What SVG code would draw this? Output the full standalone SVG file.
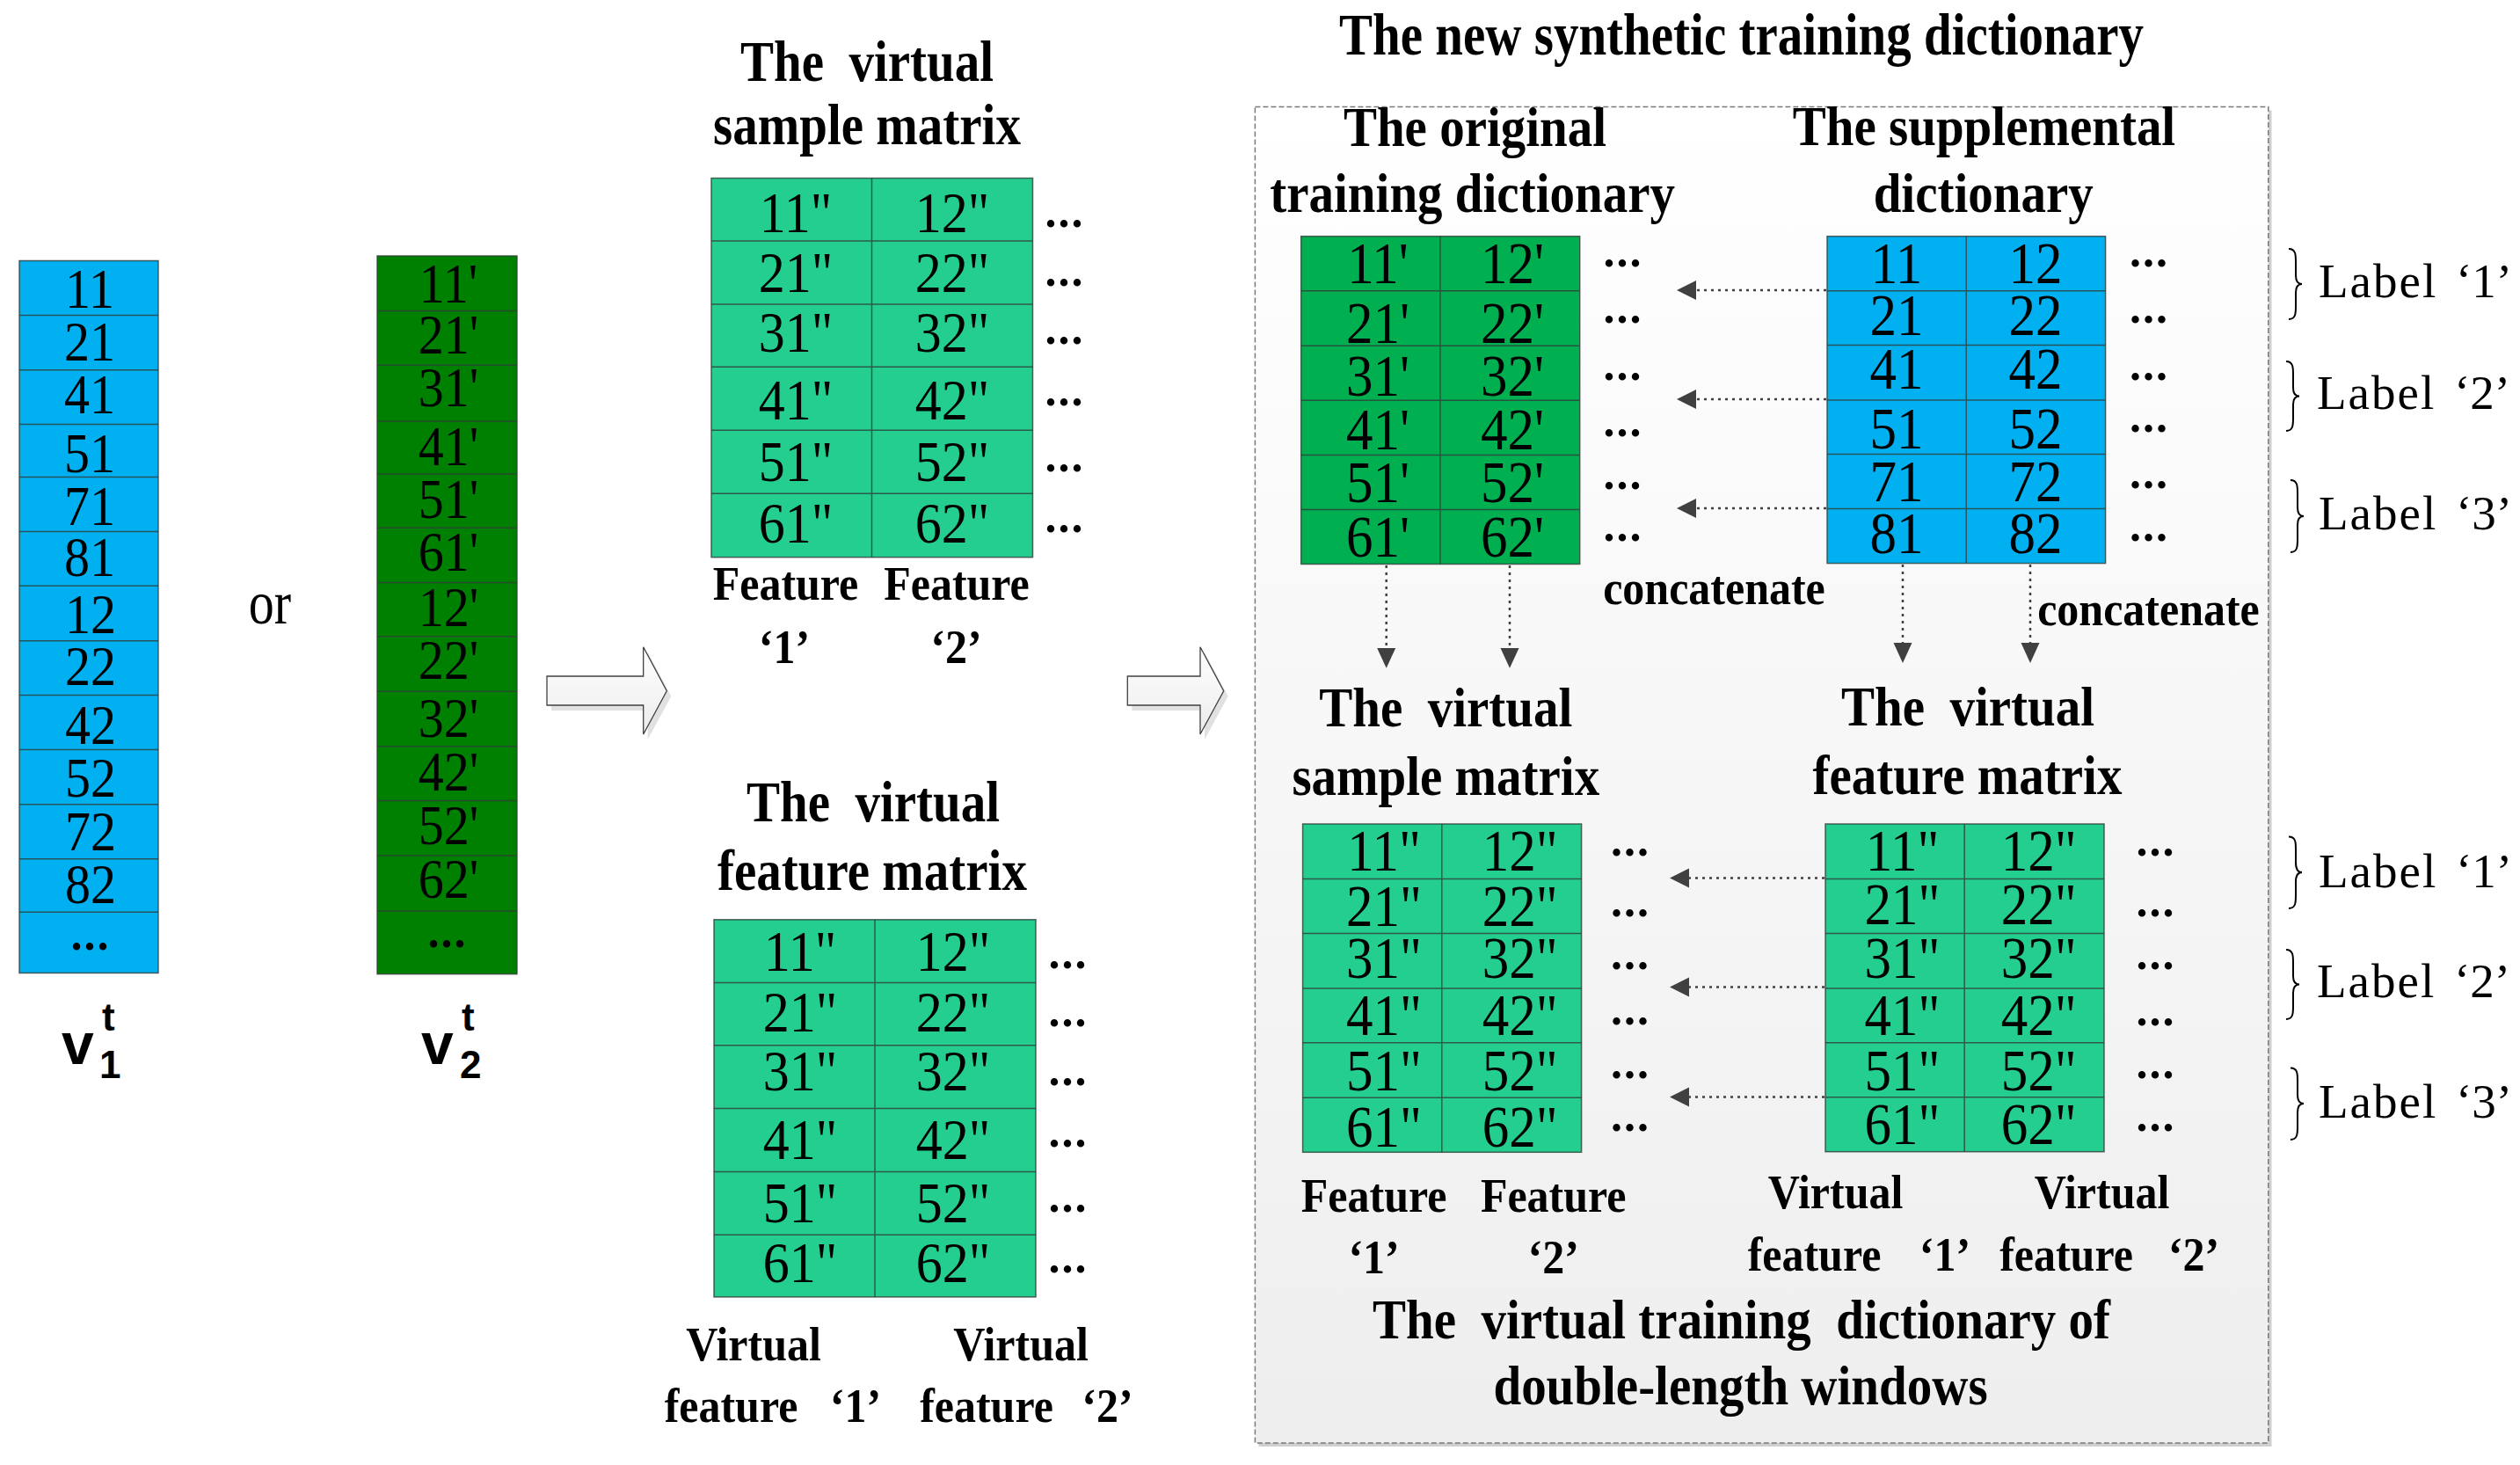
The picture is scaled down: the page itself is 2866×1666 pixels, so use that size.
<svg xmlns="http://www.w3.org/2000/svg" width="2866" height="1666" viewBox="0 0 2866 1666">
<style>
.n{font-family:"Liberation Serif",serif;font-size:58px;text-anchor:middle;fill:#000}
.m{font-family:"Liberation Serif",serif;font-size:60px;text-anchor:middle;fill:#000}
.r{font-family:"Liberation Serif",serif;font-size:61px;text-anchor:middle;fill:#000}
.h{font-family:"Liberation Serif",serif;font-weight:bold;font-size:57px;text-anchor:middle;fill:#000}
.l{font-family:"Liberation Serif",serif;font-weight:bold;font-size:50px;text-anchor:middle;fill:#000}
.d{font-family:"Liberation Serif",serif;font-weight:bold;font-size:52px;letter-spacing:2px;text-anchor:middle;fill:#000}
.lab{font-family:"Liberation Serif",serif;font-size:55px;fill:#000}
.v{font-family:"Liberation Sans",Arial,sans-serif;font-weight:bold;fill:#000}
.grid{stroke:#2f3f3a;stroke-width:1.5;fill:none;stroke-opacity:.8}
.box{stroke:#2f3f3a;stroke-width:1.5;stroke-opacity:.8}
.dot{stroke:#404040;stroke-width:2.5;stroke-dasharray:3 5;fill:none}
.ah{fill:#404040}
.brace{fill:none;stroke:#000;stroke-width:2}
</style>
<defs>
<linearGradient id="frameG" x1="0" y1="0" x2="0" y2="1">
<stop offset="0" stop-color="#ffffff"/>
<stop offset="1" stop-color="#eeeeee"/>
</linearGradient>
<linearGradient id="arrG" x1="0" y1="0" x2="0" y2="1">
<stop offset="0" stop-color="#ffffff"/>
<stop offset="1" stop-color="#ececec"/>
</linearGradient>
</defs>
<rect width="2866" height="1666" fill="#ffffff"/>

<!-- Right frame -->
<g id="frame">
<rect x="1431.5" y="125.5" width="1152" height="1519.5" fill="#cfcfcf"/>
<rect x="1427.4" y="121.4" width="1152.4" height="1519.6" fill="url(#frameG)" stroke="#7a7a7a" stroke-width="1.5" stroke-dasharray="6 3"/>
</g>

<!-- Title -->
<g id="title">
<text class="h" transform="matrix(1 0 0 1.18 1980.6 62)">The new synthetic training dictionary</text>
</g>

<!-- v1 column -->
<g id="v1">
<rect x="22" y="296.5" width="158" height="810" fill="#00B0F0" class="box"/>
<path class="grid" d="M22 358.4H180M22 420.8H180M22 482.6H180M22 542.6H180M22 604.5H180M22 666.3H180M22 728.7H180M22 790.6H180M22 852.4H180M22 914.8H180M22 976.7H180M22 1037.3H180"/>
<text class="n" transform="matrix(1 0 0 1.1 102 350.4)">11</text>
<text class="n" transform="matrix(1 0 0 1.1 102 409.8)">21</text>
<text class="n" transform="matrix(1 0 0 1.1 102 469.8)">41</text>
<text class="n" transform="matrix(1 0 0 1.1 102 536.5)">51</text>
<text class="n" transform="matrix(1 0 0 1.1 102 596.5)">71</text>
<text class="n" transform="matrix(1 0 0 1.1 102 654.7)">81</text>
<text class="n" transform="matrix(1 0 0 1.1 103 719.6)">12</text>
<text class="n" transform="matrix(1 0 0 1.1 103 778.9)">22</text>
<text class="n" transform="matrix(1 0 0 1.1 103 845.5)">42</text>
<text class="n" transform="matrix(1 0 0 1.1 103 905.5)">52</text>
<text class="n" transform="matrix(1 0 0 1.1 103 966.9)">72</text>
<text class="n" transform="matrix(1 0 0 1.1 103 1026.9)">82</text>
<text class="d" x="103" y="1080">...</text>
<text class="v" x="70" y="1210" font-size="66">v</text>
<text class="v" x="116" y="1172" font-size="44">t</text>
<text class="v" x="113" y="1226" font-size="44">1</text>
</g>

<!-- or -->
<g id="or">
<text class="n" font-size="56" transform="matrix(1 0 0 1.2 307 708.5)">or</text>
</g>

<!-- v2 column -->
<g id="v2">
<rect x="429" y="291" width="159" height="816.7" fill="#008000" class="box"/>
<path class="grid" d="M429 353.5H588M429 415.3H588M429 479H588M429 539H588M429 600.2H588M429 662.6H588M429 723.8H588M429 786.3H588M429 848.7H588M429 910.6H588M429 973H588M429 1036H588"/>
<text class="n" transform="matrix(1 0 0 1.1 510 344.3)">11'</text>
<text class="n" transform="matrix(1 0 0 1.1 510 402.4)">21'</text>
<text class="n" transform="matrix(1 0 0 1.1 510 462.4)">31'</text>
<text class="n" transform="matrix(1 0 0 1.1 510 529)">41'</text>
<text class="n" transform="matrix(1 0 0 1.1 510 589)">51'</text>
<text class="n" transform="matrix(1 0 0 1.1 510 649)">61'</text>
<text class="n" transform="matrix(1 0 0 1.1 510 711.6)">12'</text>
<text class="n" transform="matrix(1 0 0 1.1 510 771.6)">22'</text>
<text class="n" transform="matrix(1 0 0 1.1 510 838)">32'</text>
<text class="n" transform="matrix(1 0 0 1.1 510 899)">42'</text>
<text class="n" transform="matrix(1 0 0 1.1 510 959.5)">52'</text>
<text class="n" transform="matrix(1 0 0 1.1 510 1020.8)">62'</text>
<text class="d" x="509" y="1077">...</text>
<text class="v" x="479" y="1210" font-size="66">v</text>
<text class="v" x="525" y="1172" font-size="44">t</text>
<text class="v" x="523" y="1226" font-size="44">2</text>
</g>

<!-- Virtual sample matrix (middle top) -->
<g id="vsm-mid">
<text class="h" xml:space="preserve" transform="matrix(1 0 0 1.14 986 91.5)">The  virtual</text>
<text class="h" transform="matrix(1 0 0 1.14 986 164)">sample matrix</text>
<rect x="809" y="202.6" width="365.5" height="431.1" fill="#23CE8F" class="box"/>
<path class="grid" d="M991.5 202.6V633.7M809 274H1174.5M809 345.9H1174.5M809 417.3H1174.5M809 489.3H1174.5M809 561.2H1174.5"/>
<text class="m" transform="matrix(1 0 0 1.1 905 263.8)">11&quot;</text><text class="m" transform="matrix(1 0 0 1.1 1083 263.8)">12&quot;</text>
<text class="m" transform="matrix(1 0 0 1.1 905 331.6)">21&quot;</text><text class="m" transform="matrix(1 0 0 1.1 1083 331.6)">22&quot;</text>
<text class="m" transform="matrix(1 0 0 1.1 905 399.5)">31&quot;</text><text class="m" transform="matrix(1 0 0 1.1 1083 399.5)">32&quot;</text>
<text class="m" transform="matrix(1 0 0 1.1 905 476.6)">41&quot;</text><text class="m" transform="matrix(1 0 0 1.1 1083 476.6)">42&quot;</text>
<text class="m" transform="matrix(1 0 0 1.1 905 546.5)">51&quot;</text><text class="m" transform="matrix(1 0 0 1.1 1083 546.5)">52&quot;</text>
<text class="m" transform="matrix(1 0 0 1.1 905 617.3)">61&quot;</text><text class="m" transform="matrix(1 0 0 1.1 1083 617.3)">62&quot;</text>
<text class="d" x="1211" y="258">...</text>
<text class="d" x="1211" y="325">...</text>
<text class="d" x="1211" y="391">...</text>
<text class="d" x="1211" y="461">...</text>
<text class="d" x="1211" y="536">...</text>
<text class="d" x="1211" y="605">...</text>
<text class="l" transform="matrix(1 0 0 1.08 893.5 682)">Feature</text>
<text class="l" transform="matrix(1 0 0 1.08 1088 682)">Feature</text>
<text class="l" transform="matrix(1 0 0 1.08 892 754)">‘1’</text>
<text class="l" transform="matrix(1 0 0 1.08 1087.5 754)">‘2’</text>
</g>

<!-- Virtual feature matrix (middle bottom) -->
<g id="vfm-mid">
<text class="h" xml:space="preserve" transform="matrix(1 0 0 1.14 993 934)">The  virtual</text>
<text class="h" transform="matrix(1 0 0 1.14 992 1012)">feature matrix</text>
<rect x="812" y="1045.8" width="366" height="429.1" fill="#23CE8F" class="box"/>
<path class="grid" d="M995 1045.8V1474.9M812 1117.6H1178M812 1188.8H1178M812 1260.6H1178M812 1332.4H1178M812 1404.2H1178"/>
<text class="m" transform="matrix(1 0 0 1.1 910 1103.8)">11&quot;</text><text class="m" transform="matrix(1 0 0 1.1 1084 1103.8)">12&quot;</text>
<text class="m" transform="matrix(1 0 0 1.1 910 1172.8)">21&quot;</text><text class="m" transform="matrix(1 0 0 1.1 1084 1172.8)">22&quot;</text>
<text class="m" transform="matrix(1 0 0 1.1 910 1240)">31&quot;</text><text class="m" transform="matrix(1 0 0 1.1 1084 1240)">32&quot;</text>
<text class="m" transform="matrix(1 0 0 1.1 910 1318)">41&quot;</text><text class="m" transform="matrix(1 0 0 1.1 1084 1318)">42&quot;</text>
<text class="m" transform="matrix(1 0 0 1.1 910 1389.9)">51&quot;</text><text class="m" transform="matrix(1 0 0 1.1 1084 1389.9)">52&quot;</text>
<text class="m" transform="matrix(1 0 0 1.1 910 1458.3)">61&quot;</text><text class="m" transform="matrix(1 0 0 1.1 1084 1458.3)">62&quot;</text>
<text class="d" x="1215" y="1101">...</text>
<text class="d" x="1215" y="1167">...</text>
<text class="d" x="1215" y="1234">...</text>
<text class="d" x="1215" y="1304">...</text>
<text class="d" x="1215" y="1378">...</text>
<text class="d" x="1215" y="1447">...</text>
<text class="l" transform="matrix(1 0 0 1.08 857 1547)">Virtual</text>
<text class="l" transform="matrix(1 0 0 1.08 1161 1547)">Virtual</text>
<text class="l" transform="matrix(1 0 0 1.08 0 1617)"><tspan x="831.5">feature</tspan><tspan x="973">‘1’</tspan></text>
<text class="l" transform="matrix(1 0 0 1.08 0 1617)"><tspan x="1122">feature</tspan><tspan x="1259.5">‘2’</tspan></text>
</g>

<!-- Original training dictionary -->
<g id="orig-dict">
<text class="h" transform="matrix(1 0 0 1.1 1677.5 166)">The original</text>
<text class="h" transform="matrix(1 0 0 1.1 1674.6 241)">training dictionary</text>
<rect x="1479.7" y="268.7" width="317" height="372.8" fill="#00B050" class="box"/>
<path class="grid" d="M1637.9 268.7V641.5M1479.7 330.8H1796.7M1479.7 393.3H1796.7M1479.7 455.3H1796.7M1479.7 517.4H1796.7M1479.7 579.4H1796.7"/>
<text class="r" transform="matrix(1 0 0 1.1 1567 321.9)">11'</text><text class="r" transform="matrix(1 0 0 1.1 1720 321.9)">12'</text>
<text class="r" transform="matrix(1 0 0 1.1 1567 390.4)">21'</text><text class="r" transform="matrix(1 0 0 1.1 1720 390.4)">22'</text>
<text class="r" transform="matrix(1 0 0 1.1 1567 450.4)">31'</text><text class="r" transform="matrix(1 0 0 1.1 1720 450.4)">32'</text>
<text class="r" transform="matrix(1 0 0 1.1 1567 510.7)">41'</text><text class="r" transform="matrix(1 0 0 1.1 1720 510.7)">42'</text>
<text class="r" transform="matrix(1 0 0 1.1 1567 571)">51'</text><text class="r" transform="matrix(1 0 0 1.1 1720 571)">52'</text>
<text class="r" transform="matrix(1 0 0 1.1 1567 633.4)">61'</text><text class="r" transform="matrix(1 0 0 1.1 1720 633.4)">62'</text>
<text class="d" x="1846" y="303">...</text>
<text class="d" x="1846" y="367">...</text>
<text class="d" x="1846" y="432">...</text>
<text class="d" x="1846" y="496">...</text>
<text class="d" x="1846" y="556">...</text>
<text class="d" x="1846" y="615">...</text>
<text class="l" transform="matrix(1 0 0 1.1 1949.5 687)">concatenate</text>
</g>

<!-- Supplemental dictionary -->
<g id="supp-dict">
<text class="h" transform="matrix(1 0 0 1.1 2256.5 165)">The supplemental</text>
<text class="h" transform="matrix(1 0 0 1.1 2255.7 241)">dictionary</text>
<rect x="2078" y="268.7" width="316.6" height="371.9" fill="#00B0F0" class="box"/>
<path class="grid" d="M2236.2 268.7V640.6M2078 330.8H2394.6M2078 392.4H2394.6M2078 454.9H2394.6M2078 516.5H2394.6M2078 578.5H2394.6"/>
<text class="r" transform="matrix(1 0 0 1.1 2157 321.9)">11</text><text class="r" transform="matrix(1 0 0 1.1 2315 321.9)">12</text>
<text class="r" transform="matrix(1 0 0 1.1 2157 381)">21</text><text class="r" transform="matrix(1 0 0 1.1 2315 381)">22</text>
<text class="r" transform="matrix(1 0 0 1.1 2157 441.5)">41</text><text class="r" transform="matrix(1 0 0 1.1 2315 441.5)">42</text>
<text class="r" transform="matrix(1 0 0 1.1 2157 509.8)">51</text><text class="r" transform="matrix(1 0 0 1.1 2315 509.8)">52</text>
<text class="r" transform="matrix(1 0 0 1.1 2157 569.6)">71</text><text class="r" transform="matrix(1 0 0 1.1 2315 569.6)">72</text>
<text class="r" transform="matrix(1 0 0 1.1 2157 629)">81</text><text class="r" transform="matrix(1 0 0 1.1 2315 629)">82</text>
<text class="d" x="2444.4" y="303">...</text>
<text class="d" x="2444.4" y="367">...</text>
<text class="d" x="2444.4" y="432">...</text>
<text class="d" x="2444.4" y="491">...</text>
<text class="d" x="2444.4" y="555">...</text>
<text class="d" x="2444.4" y="615">...</text>
<text class="l" transform="matrix(1 0 0 1.1 2443.5 711)">concatenate</text>
</g>

<!-- Lower virtual sample matrix -->
<g id="vsm-right">
<text class="h" xml:space="preserve" transform="matrix(1 0 0 1.1 1644.3 826)">The  virtual</text>
<text class="h" transform="matrix(1 0 0 1.1 1644.3 904)">sample matrix</text>
<rect x="1481.6" y="937" width="317" height="373.3" fill="#23CE8F" class="box"/>
<path class="grid" d="M1639.8 937V1310.3M1481.6 999.4H1798.6M1481.6 1061.4H1798.6M1481.6 1123.9H1798.6M1481.6 1185.8H1798.6M1481.6 1248.3H1798.6"/>
<text class="r" transform="matrix(1 0 0 1.1 1574 989.5)">11&quot;</text><text class="r" transform="matrix(1 0 0 1.1 1728.6 989.5)">12&quot;</text>
<text class="r" transform="matrix(1 0 0 1.1 1574 1052.6)">21&quot;</text><text class="r" transform="matrix(1 0 0 1.1 1728.6 1052.6)">22&quot;</text>
<text class="r" transform="matrix(1 0 0 1.1 1574 1112.2)">31&quot;</text><text class="r" transform="matrix(1 0 0 1.1 1728.6 1112.2)">32&quot;</text>
<text class="r" transform="matrix(1 0 0 1.1 1574 1176.5)">41&quot;</text><text class="r" transform="matrix(1 0 0 1.1 1728.6 1176.5)">42&quot;</text>
<text class="r" transform="matrix(1 0 0 1.1 1574 1239.6)">51&quot;</text><text class="r" transform="matrix(1 0 0 1.1 1728.6 1239.6)">52&quot;</text>
<text class="r" transform="matrix(1 0 0 1.1 1574 1303.8)">61&quot;</text><text class="r" transform="matrix(1 0 0 1.1 1728.6 1303.8)">62&quot;</text>
<text class="d" x="1854.4" y="973">...</text>
<text class="d" x="1854.4" y="1042">...</text>
<text class="d" x="1854.4" y="1102">...</text>
<text class="d" x="1854.4" y="1165">...</text>
<text class="d" x="1854.4" y="1226">...</text>
<text class="d" x="1854.4" y="1286">...</text>
<text class="l" transform="matrix(1 0 0 1.08 1562.6 1378)">Feature</text>
<text class="l" transform="matrix(1 0 0 1.08 1766.7 1378)">Feature</text>
<text class="l" transform="matrix(1 0 0 1.08 1562.6 1448)">‘1’</text>
<text class="l" transform="matrix(1 0 0 1.08 1766.7 1448)">‘2’</text>
</g>

<!-- Lower virtual feature matrix -->
<g id="vfm-right">
<text class="h" xml:space="preserve" transform="matrix(1 0 0 1.1 2238 825)">The  virtual</text>
<text class="h" transform="matrix(1 0 0 1.1 2237.5 903)">feature matrix</text>
<rect x="2076" y="937" width="317" height="372.7" fill="#23CE8F" class="box"/>
<path class="grid" d="M2234.2 937V1309.7M2076 999.4H2393M2076 1061.4H2393M2076 1123.9H2393M2076 1185.8H2393M2076 1247.7H2393"/>
<text class="r" transform="matrix(1 0 0 1.1 2163.5 989.5)">11&quot;</text><text class="r" transform="matrix(1 0 0 1.1 2318.6 989.5)">12&quot;</text>
<text class="r" transform="matrix(1 0 0 1.1 2163.5 1050.9)">21&quot;</text><text class="r" transform="matrix(1 0 0 1.1 2318.6 1050.9)">22&quot;</text>
<text class="r" transform="matrix(1 0 0 1.1 2163.5 1112.2)">31&quot;</text><text class="r" transform="matrix(1 0 0 1.1 2318.6 1112.2)">32&quot;</text>
<text class="r" transform="matrix(1 0 0 1.1 2163.5 1177.4)">41&quot;</text><text class="r" transform="matrix(1 0 0 1.1 2318.6 1177.4)">42&quot;</text>
<text class="r" transform="matrix(1 0 0 1.1 2163.5 1239.6)">51&quot;</text><text class="r" transform="matrix(1 0 0 1.1 2318.6 1239.6)">52&quot;</text>
<text class="r" transform="matrix(1 0 0 1.1 2163.5 1301)">61&quot;</text><text class="r" transform="matrix(1 0 0 1.1 2318.6 1301)">62&quot;</text>
<text class="d" x="2452" y="973">...</text>
<text class="d" x="2452" y="1042">...</text>
<text class="d" x="2452" y="1102">...</text>
<text class="d" x="2452" y="1166">...</text>
<text class="d" x="2452" y="1226">...</text>
<text class="d" x="2452" y="1286">...</text>
<text class="l" transform="matrix(1 0 0 1.08 2087.5 1374)">Virtual</text>
<text class="l" transform="matrix(1 0 0 1.08 2390.5 1374)">Virtual</text>
<text class="l" transform="matrix(1 0 0 1.08 0 1445)"><tspan x="2063.5">feature</tspan><tspan x="2212">‘1’</tspan></text>
<text class="l" transform="matrix(1 0 0 1.08 0 1445)"><tspan x="2350">feature</tspan><tspan x="2495">‘2’</tspan></text>
</g>

<!-- Bottom caption -->
<g id="caption">
<text class="h" xml:space="preserve" transform="matrix(1 0 0 1.1 1980.5 1522)">The  virtual training  dictionary of</text>
<text class="h" transform="matrix(1 0 0 1.1 1979.5 1597)">double-length windows</text>
</g>

<!-- Labels with braces -->
<g id="labels">
<path class="brace" d="M2603 283C2611 283 2611 290 2611 298L2611 313C2611 320 2613 323 2618 323C2613 323 2611 326 2611 333L2611 348C2611 356 2611 363 2603 363"/>
<path class="brace" d="M2600 411C2608 411 2608 418 2608 426L2608 441C2608 447 2610 450.5 2615 450.5C2610 450.5 2608 454 2608 460L2608 475C2608 483 2608 490 2600 490"/>
<path class="brace" d="M2605 546C2613 546 2613 553 2613 561L2613 577C2613 584 2615 587 2620 587C2615 587 2613 590 2613 597L2613 613C2613 621 2613 628 2605 628"/>
<text class="lab" x="2637" y="338"><tspan letter-spacing="2">Label</tspan><tspan x="2793">‘1’</tspan></text>
<text class="lab" x="2635" y="465"><tspan letter-spacing="2">Label</tspan><tspan x="2791">‘2’</tspan></text>
<text class="lab" x="2637" y="602"><tspan letter-spacing="2">Label</tspan><tspan x="2793">‘3’</tspan></text>
<path class="brace" d="M2603 951.5C2611 951.5 2611 958 2611 966L2611 981C2611 988 2613 992 2618 992C2613 992 2611 996 2611 1003L2611 1018C2611 1026 2611 1033 2603 1033"/>
<path class="brace" d="M2600 1080C2608 1080 2608 1087 2608 1095L2608 1110C2608 1116 2610 1119.5 2615 1119.5C2610 1119.5 2608 1123 2608 1129L2608 1144C2608 1152 2608 1159 2600 1159"/>
<path class="brace" d="M2605 1214.5C2613 1214.5 2613 1221 2613 1229L2613 1245C2613 1252 2615 1255 2620 1255C2615 1255 2613 1258 2613 1265L2613 1281C2613 1289 2613 1296 2605 1296"/>
<text class="lab" x="2637" y="1009"><tspan letter-spacing="2">Label</tspan><tspan x="2793">‘1’</tspan></text>
<text class="lab" x="2635" y="1134"><tspan letter-spacing="2">Label</tspan><tspan x="2791">‘2’</tspan></text>
<text class="lab" x="2637" y="1271"><tspan letter-spacing="2">Label</tspan><tspan x="2793">‘3’</tspan></text>
</g>

<!-- Connectors -->
<g id="connectors">
<polygon points="627,775 736.7,775 736.7,741.7 763.3,791.7 736.7,841 736.7,808 627,808" fill="#d4d4d4" opacity="0.7"/>
<polygon points="622,769 731.7,769 731.7,735.7 758.3,785.7 731.7,835 731.7,802 622,802" fill="url(#arrG)" stroke="#404040" stroke-width="1.3"/>
<polygon points="1287.3,775 1370,775 1370,741.7 1396.7,791.7 1370,841 1370,808 1287.3,808" fill="#d4d4d4" opacity="0.7"/>
<polygon points="1282.3,769 1365,769 1365,735.7 1391.7,785.7 1365,835 1365,802 1282.3,802" fill="url(#arrG)" stroke="#404040" stroke-width="1.3"/>

<path class="dot" d="M2077 330H1929M2077 454H1929M2077 578H1929"/>
<polygon class="ah" points="1907,330 1929,319 1929,341"/>
<polygon class="ah" points="1907,454 1929,443 1929,465"/>
<polygon class="ah" points="1907,578 1929,567 1929,589"/>

<path class="dot" d="M1576.7 643V737M1717 643V737M2164 642V731M2309 642V731"/>
<polygon class="ah" points="1566.2,737 1587.2,737 1576.7,759.8"/>
<polygon class="ah" points="1706.5,737 1727.5,737 1717,759.8"/>
<polygon class="ah" points="2153.5,731 2174.5,731 2164,754"/>
<polygon class="ah" points="2298.5,731 2319.5,731 2309,754"/>

<path class="dot" d="M2075 998.5H1921M2075 1122.5H1921M2075 1247.5H1921"/>
<polygon class="ah" points="1899,998.5 1921,987.5 1921,1009.5"/>
<polygon class="ah" points="1899,1122.5 1921,1111.5 1921,1133.5"/>
<polygon class="ah" points="1899,1247.5 1921,1236.5 1921,1258.5"/>
</g>
</svg>
